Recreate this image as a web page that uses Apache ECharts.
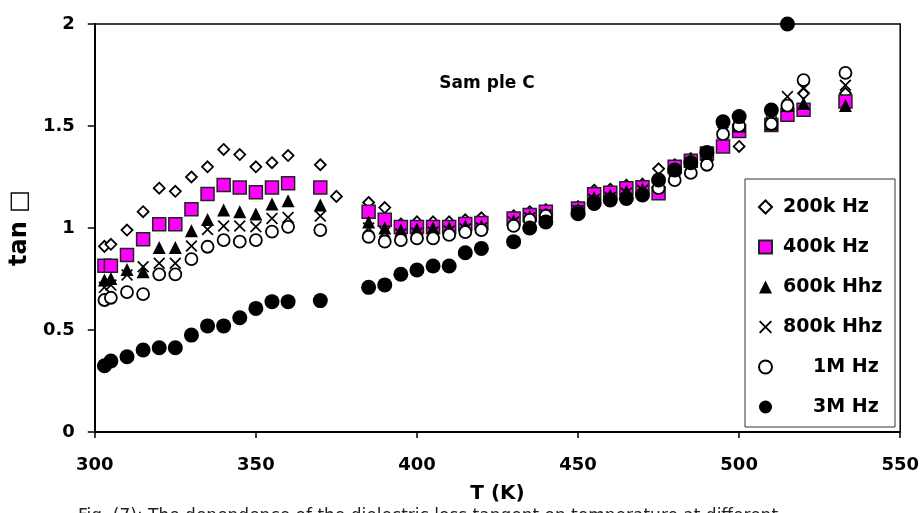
<!DOCTYPE html>
<html><head><meta charset="utf-8">
<script src="https://cdn.jsdelivr.net/npm/echarts@6/dist/echarts.min.js"></script>
<style>html,body{margin:0;padding:0;background:#fff}#c{width:922px;height:513px}</style>
</head><body><div id="c"></div>
<script>
// Temperatures (K)
const temps = [303,305,310,315,320,325,330,335,340,345,350,355,360,370,375,385,390,395,400,405,410,415,420,430,435,440,450,455,460,465,470,475,480,485,490,495,500,510,515,520,533];
// tan delta values per frequency (null = no point)
const v200k = [0.91,0.92,0.99,1.08,1.195,1.18,1.25,1.30,1.385,1.36,1.30,1.32,1.355,1.31,1.155,1.125,1.10,1.02,1.03,1.03,1.03,1.04,1.05,1.06,1.08,1.09,1.105,1.185,1.19,1.21,1.215,1.29,1.31,1.34,1.37,1.47,1.40,1.52,1.60,1.66,1.66];
const v400k = [0.815,0.815,0.868,0.945,1.018,1.018,1.092,1.167,1.211,1.198,1.175,1.198,1.219,1.198,null,1.08,1.04,1.005,1.005,1.005,1.005,1.02,1.025,1.047,1.064,1.08,1.096,1.165,1.173,1.195,1.2,1.17,1.30,1.33,1.365,1.40,1.475,1.505,1.555,1.58,1.62];
const v600k = [0.745,0.752,0.797,0.786,0.905,0.905,0.987,1.042,1.088,1.08,1.069,1.118,1.134,1.113,null,1.03,1.0,0.99,0.995,1.0,1.0,1.01,1.01,1.035,1.055,1.07,1.09,1.15,1.16,1.18,1.19,1.22,1.29,1.33,1.36,1.47,1.5,1.51,1.6,1.61,1.6];
const v800k = [0.709,0.72,0.77,0.81,0.827,0.827,0.912,0.993,1.01,1.01,1.006,1.047,1.052,1.059,null,1.0,0.98,0.97,0.975,0.98,0.985,0.995,1.0,1.03,1.05,1.065,1.085,1.14,1.15,1.17,1.185,1.21,1.28,1.32,1.35,1.47,1.5,1.52,1.644,1.684,1.70];
const v1M = [0.647,0.658,0.686,0.676,0.773,0.773,0.847,0.908,0.941,0.933,0.941,0.982,1.006,0.99,null,0.957,0.933,0.941,0.949,0.949,0.966,0.98,0.99,1.01,1.04,1.06,1.08,1.13,1.14,1.15,1.165,1.195,1.235,1.27,1.31,1.46,1.5,1.51,1.6,1.725,1.76];
const v3M = [0.325,0.348,0.369,0.402,0.413,0.413,0.475,0.52,0.52,0.56,0.606,0.639,0.639,0.644,null,0.709,0.721,0.773,0.794,0.814,0.814,0.879,0.9,0.933,1.0,1.03,1.07,1.12,1.137,1.145,1.162,1.235,1.284,1.32,1.37,1.521,1.546,1.578,2.0,null,null];

const seriesNames = ['200k Hz','400k Hz','600k Hhz','800k Hhz','1M Hz','3M Hz'];
const xTicks = {min:300, max:550, interval:50};
const yTicks = {min:0, max:2, interval:0.5};
const titleText = 'Sam ple C';
const xName = 'T (K)';
const yName = 'tan \u25A1';
const captionText = 'Fig. (7): The dependence of the dielectric loss tangent on temperature at different';

const FONT = 'DejaVu Sans';
const XPATH = 'path://M0,1L1,0L5,4L9,0L10,1L6,5L10,9L9,10L5,6L1,10L0,9L4,5Z';

function pts(vals){ return temps.map((t,i)=> vals[i]==null ? null : [t, vals[i]]).filter(Boolean); }

const styles = [
  {symbol:'diamond', size:11, itemStyle:{color:'#fff', borderColor:'#000', borderWidth:1.8, opacity:1}},
  {symbol:'rect', size:13, itemStyle:{color:'#FF00FF', borderColor:'#222', borderWidth:1.5, opacity:1}},
  {symbol:'triangle', size:13, itemStyle:{color:'#000', borderWidth:0, opacity:1}},
  {symbol:XPATH, size:12, itemStyle:{color:'#000', borderWidth:0, opacity:1}},
  {symbol:'circle', size:12, itemStyle:{color:'#fff', borderColor:'#000', borderWidth:1.8, opacity:1}},
  {symbol:'circle', size:15, itemStyle:{color:'#000', borderWidth:0, opacity:1}}
];
const allVals = [v200k, v400k, v600k, v800k, v1M, v3M];

const chart = echarts.init(document.getElementById('c'), null, {renderer:'canvas'});
chart.setOption({
  animation:false,
  backgroundColor:'#fff',
  grid:{left:93, right:19, top:24, bottom:81, show:true, borderColor:'#000', borderWidth:1.5, backgroundColor:'transparent'},
  xAxis:{type:'value', min:xTicks.min, max:xTicks.max, interval:xTicks.interval,
    name:xName, nameLocation:'middle', nameGap:52,
    nameTextStyle:{fontFamily:FONT, fontWeight:'bold', fontSize:20, color:'#000'},
    axisLine:{show:true, onZero:false, lineStyle:{color:'#000', width:2}},
    axisTick:{show:true, inside:false, length:6, lineStyle:{color:'#000', width:1.5}},
    axisLabel:{fontFamily:FONT, fontWeight:'bold', fontSize:18, color:'#000', margin:24},
    splitLine:{show:false}},
  yAxis:{type:'value', min:yTicks.min, max:yTicks.max, interval:yTicks.interval,
    name:yName, nameLocation:'middle', nameGap:53, nameRotate:90,
    nameTextStyle:{fontFamily:FONT, fontWeight:'bold', fontSize:24, color:'#000'},
    axisLine:{show:true, onZero:false, lineStyle:{color:'#000', width:2}},
    axisTick:{show:true, inside:false, length:7, lineStyle:{color:'#000', width:1.5}},
    axisLabel:{fontFamily:FONT, fontWeight:'bold', fontSize:18, color:'#000', margin:20},
    splitLine:{show:false}},
  legend:{orient:'vertical', left:753, top:192, itemWidth:13, itemHeight:13, itemGap:20, z:10,
    data:seriesNames,
    formatter:function(n){ return (n==='1M Hz'||n==='3M Hz') ? '{ind| }'+n : n; },
    textStyle:{fontFamily:FONT, fontWeight:'bold', fontSize:19, color:'#000', lineHeight:20, padding:[0,0,0,6],
      rich:{ind:{width:30, fontFamily:FONT, fontWeight:'bold', fontSize:19}}}},
  graphic:[
    {type:'rect', z:5, shape:{x:745, y:179, width:150, height:248}, style:{fill:'#fff', stroke:'#333', lineWidth:1}},
    {type:'text', x:487, y:84, style:{text:titleText, fontFamily:FONT, fontWeight:'bold', fontSize:17, fill:'#000', align:'center', verticalAlign:'middle'}},
    {type:'text', x:78, y:508, style:{text:captionText, fontFamily:FONT, fontSize:17, fill:'#222', align:'left', verticalAlign:'top'}}
  ],
  series: seriesNames.map((n,i)=>({
    name:n, type:'scatter', clip:false, z:2+i,
    symbol:styles[i].symbol, symbolSize:styles[i].size,
    itemStyle:styles[i].itemStyle,
    emphasis:{disabled:true},
    data:pts(allVals[i])
  }))
});
</script></body></html>
